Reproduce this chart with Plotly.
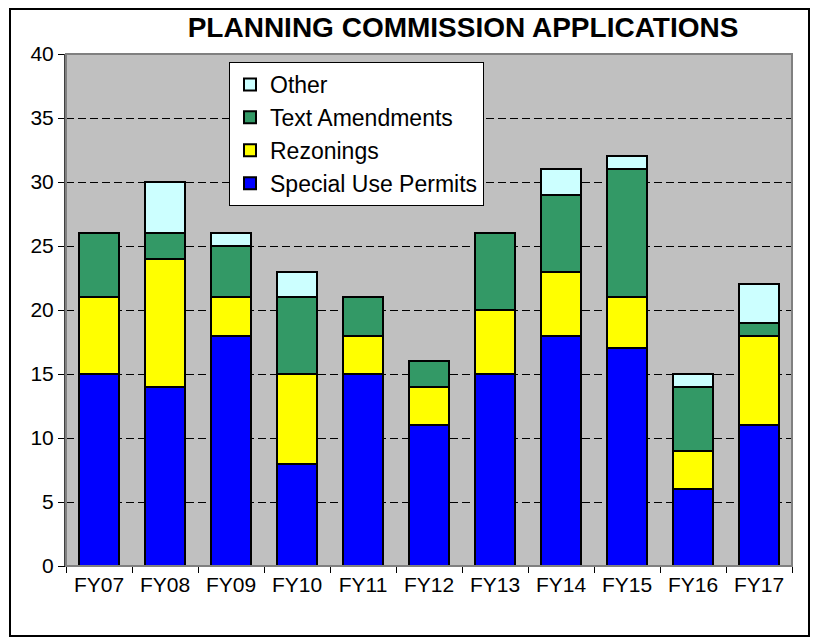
import plotly.graph_objects as go

years = ["FY07", "FY08", "FY09", "FY10", "FY11", "FY12", "FY13", "FY14", "FY15", "FY16", "FY17"]
special_use = [15, 14, 18, 8, 15, 11, 15, 18, 17, 6, 11]
rezonings = [6, 10, 3, 7, 3, 3, 5, 5, 4, 3, 7]
text_amend = [5, 2, 4, 6, 3, 2, 6, 6, 10, 5, 1]
other = [0, 4, 1, 2, 0, 0, 0, 2, 1, 1, 3]
y_ticks = [0, 5, 10, 15, 20, 25, 30, 35, 40]

series = [
    ("Special Use Permits", special_use, "#0000FF", 4),
    ("Rezonings", rezonings, "#FFFF00", 3),
    ("Text Amendments", text_amend, "#339966", 2),
    ("Other", other, "#CCFFFF", 1),
]

fig = go.Figure()
for i, (name, vals, col, rank) in enumerate(series):
    fig.add_trace(go.Bar(
        x=years, y=vals, name=name, legendgroup=f"g{i}", legendrank=rank,
        marker=dict(color=col, line=dict(color="black", width=2)),
    ))

# page has an 8px body margin; figure coords = screen coords - 8
W, H = 812, 631
L, T = 58, 46
pw, ph = 726, 512
R, B = W - L - pw, H - T - ph

fig.update_layout(
    width=W, height=H,
    margin=dict(l=L, r=R, t=T, b=B),
    barmode="stack", bargap=0.38,
    plot_bgcolor="#C0C0C0", paper_bgcolor="white",
    font=dict(family="Liberation Sans, Arial", size=20, color="black"),
    title=dict(text="<b>PLANNING COMMISSION APPLICATIONS</b>", x=455 / W, xanchor="center",
               y=1 - 19 / H, yanchor="middle", font=dict(size=28)),
    legend=dict(x=(221 - L) / pw, y=(H - B - 54) / ph, xanchor="left", yanchor="top",
                bgcolor="white", bordercolor="black", borderwidth=1,
                traceorder="grouped", tracegroupgap=0,
                font=dict(size=23)),
    xaxis=dict(showline=True, linecolor="black", linewidth=1, ticks="outside",
               tickson="boundaries", ticklen=6, tickcolor="black", showgrid=False,
               tickfont=dict(size=21)),
    yaxis=dict(range=[0, 40], tickvals=y_ticks, showline=True, linecolor="#404040", linewidth=2,
               ticks="outside", ticklen=6, tickcolor="black", tickfont=dict(size=21),
               showgrid=True, gridcolor="black", griddash="8px,4px", gridwidth=1, zeroline=False),
    shapes=[
        dict(type="rect", xref="paper", yref="paper", x0=0, x1=1, y0=0, y1=1,
             line=dict(color="#808080", width=2), layer="above"),
        dict(type="rect", xref="paper", yref="paper",
             x0=(2 - L) / pw, x1=(801 - L) / pw, y0=(H - B - 628) / ph, y1=(H - B - 1) / ph,
             line=dict(color="black", width=2)),
    ],
)
fig.write_html("out.html")
